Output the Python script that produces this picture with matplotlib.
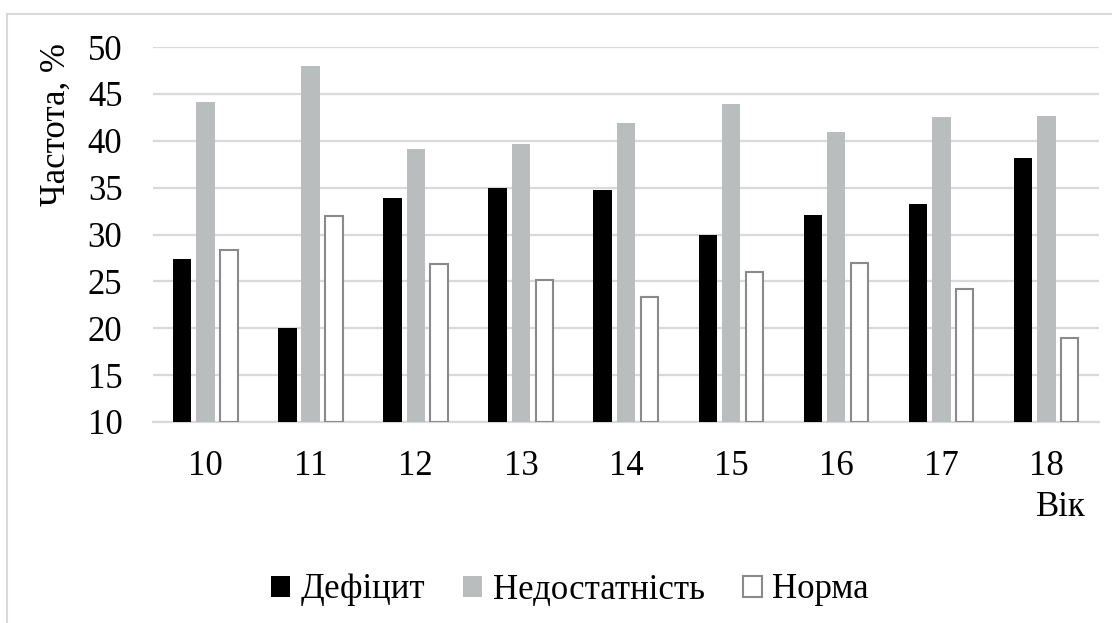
import matplotlib.pyplot as plt
import numpy as np
from matplotlib.patches import Rectangle

plt.rcParams["font.family"] = ["Tinos", "Liberation Serif", "Noto Serif", "PT Serif", "DejaVu Serif"]

ages = ["10", "11", "12", "13", "14", "15", "16", "17", "18"]
deficit = [27.4, 20.0, 33.9, 35.0, 34.7, 30.0, 32.1, 33.3, 38.2]
insufficient = [44.1, 48.0, 39.1, 39.7, 41.9, 43.9, 40.9, 42.5, 42.6]
normal = [28.4, 32.0, 26.9, 25.2, 23.3, 26.0, 27.0, 24.2, 19.0]

fig = plt.figure(figsize=(11.12, 6.23), dpi=100)
# plot area in pixels: x 153..1099, y 47..422
ax = fig.add_axes([153 / 1112, 1 - 422 / 623, 946 / 1112, 375 / 623])

x = np.arange(len(ages))
w = 0.176
step = 0.222
ax.bar(x - step, [v - 10 for v in deficit], w, bottom=10, color="black",
       label="Дефіцит", zorder=3)
ax.bar(x, [v - 10 for v in insufficient], w, bottom=10, color="#babdbe",
       label="Недостатність", zorder=3)
ax.bar(x + step, [v - 10 for v in normal], w - 0.012, bottom=10, color="white",
       edgecolor="#8a8a8a", linewidth=1.5, label="Норма", zorder=3)

ax.set_xlim(-0.5, len(ages) - 0.5)
ax.set_ylim(10, 50)
ax.set_yticks(range(10, 51, 5))
ax.set_xticks(x)
ax.set_xticklabels(ages)
ax.yaxis.grid(True, color="#d9d9d9", linewidth=1.6, zorder=0)
ax.set_axisbelow(True)
for s in ["top", "right", "left"]:
    ax.spines[s].set_visible(False)
ax.spines["bottom"].set_color("#d9d9d9")
ax.spines["bottom"].set_linewidth(1.6)
ax.tick_params(axis="both", length=0, labelsize=25)
ax.tick_params(axis="x", pad=20)
ax.tick_params(axis="y", pad=22)

fig.text(56 / 1112, 1 - 125 / 623, "Частота, %", rotation=90, fontsize=25,
         ha="center", va="center")
fig.text(1061 / 1112, 1 - 507 / 623, "Вік", fontsize=25,
         ha="center", va="center")

fig.legend(loc="center", bbox_to_anchor=(570 / 1112, 1 - 590 / 623), ncol=3,
           frameon=False, fontsize=25, handlelength=0.55, handleheight=0.55,
           handletextpad=0.3, columnspacing=1.1)

# light grey frame round the chart
fig.patches.append(Rectangle((7 / 1112, -0.1), 1.2, 1 - 14 / 623 + 0.1,
                             transform=fig.transFigure, fill=False,
                             edgecolor="#d9d9d9", linewidth=1.5))

fig.savefig("out.png", dpi=100)
